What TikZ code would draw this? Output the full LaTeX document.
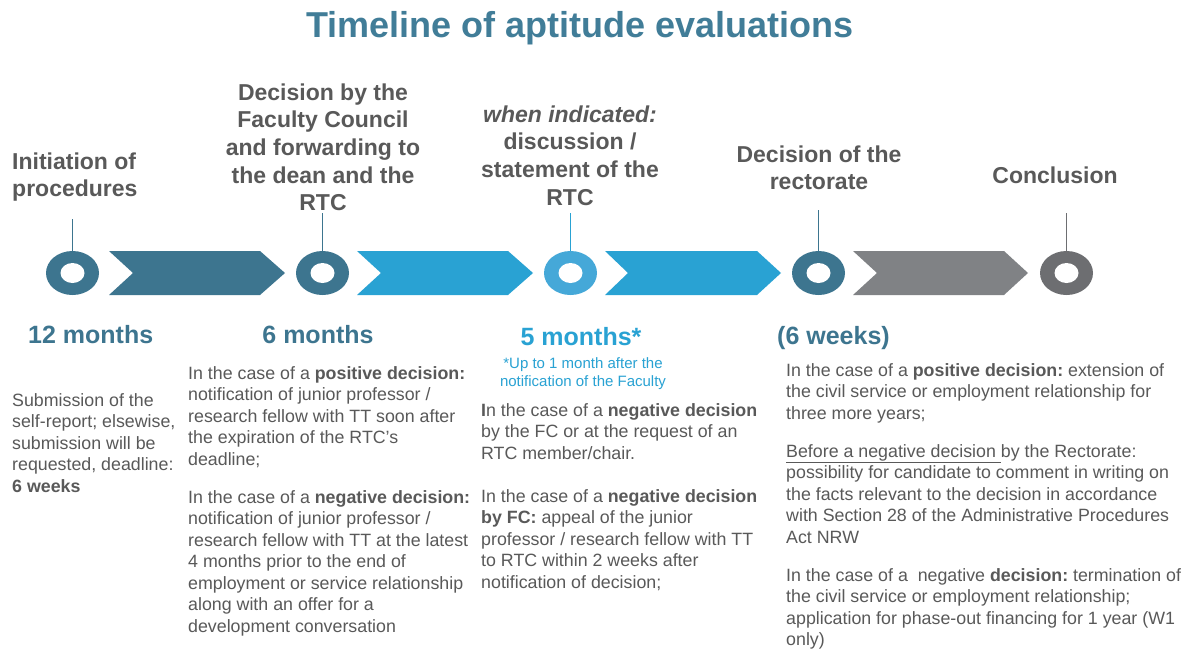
\documentclass[tikz,border=0pt]{standalone}
\usepackage{fontspec}
\setmainfont{Liberation Sans}
\usetikzlibrary{shapes.geometric}
\definecolor{ateal}{HTML}{3D758F}
\definecolor{titleteal}{HTML}{417D98}
\definecolor{ablue}{HTML}{29A2D3}
\definecolor{lblue}{HTML}{45A8D8}
\definecolor{agray}{HTML}{808285}
\definecolor{dgray}{HTML}{6D6E71}
\definecolor{txt}{HTML}{595959}
\frenchspacing
\begin{document}
\begin{tikzpicture}[x=1pt,y=-1pt,
  ring/.style={ellipse, minimum width=53pt, minimum height=44pt, inner sep=0pt, fill=#1},
  hole/.style={fill=white},
  stem/.style={line width=1.5pt, draw=#1},
  toplabel/.style={inner sep=0pt, text=txt, font=\fontsize{23}{27.7}\selectfont\bfseries},
  period/.style={inner sep=0pt, font=\fontsize{25}{30}\selectfont\bfseries},
  body/.style={inner sep=0pt, text=txt, align=left, anchor=north west, font=\fontsize{17.8}{21.5}\selectfont},
  note/.style={inner sep=0pt, text=ablue, align=center, anchor=north, font=\fontsize{15}{18}\selectfont}
]
\useasboundingbox[fill=white] (0,0) rectangle (1196,651);

% title
\node[inner sep=0pt, anchor=base, text=titleteal, font=\fontsize{36}{43}\selectfont\bfseries] (title) at (580,37) {Timeline of aptitude evaluations};

% chevrons
\fill[ateal] (109,251) -- (260,251) -- (285,273) -- (260,295) -- (109,295) -- (133,273) -- cycle;
\fill[ablue] (357,251) -- (508,251) -- (533,273) -- (508,295) -- (357,295) -- (381,273) -- cycle;
\fill[ablue] (605,251) -- (757,251) -- (781,273) -- (757,295) -- (605,295) -- (628,273) -- cycle;
\fill[agray] (853,251) -- (1004,251) -- (1028,273) -- (1004,295) -- (853,295) -- (877,273) -- cycle;

% rings
\node[ring=ateal] (c1) at (72.5,273) {};
\node[ring=ateal] (c2) at (322.5,273) {};
\node[ring=lblue] (c3) at (570.5,273) {};
\node[ring=ateal] (c4) at (818.5,273) {};
\node[ring=dgray] (c5) at (1066.5,273) {};
\foreach \c in {c1,c2,c3,c4,c5}{
  \fill[hole] (\c.center) ellipse [x radius=12, y radius=10];
}

% stems
\coordinate (t1) at (72.5,219);
\coordinate (t2) at (322.5,213);
\coordinate (t3) at (570.5,213);
\coordinate (t4) at (818.5,210);
\coordinate (t5) at (1066.5,213);
\draw[stem=ateal] (c1.north) -- (t1);
\draw[stem=ateal] (c2.north) -- (t2);
\draw[stem=ablue] (c3.north) -- (t3);
\draw[stem=ateal] (c4.north) -- (t4);
\draw[stem=dgray] (c5.north) -- (t5);

% top labels
\node[toplabel, align=left, anchor=north west] (l1) at (12,149.6) {\strut Initiation of\\procedures};
\node[toplabel, align=center, anchor=north] (l2) at (323,80.6) {\strut Decision by the\\Faculty Council\\and forwarding to\\the dean and the\\RTC};
\node[toplabel, align=center, anchor=north] (l3) at (570,102.6) {\strut\textit{when indicated:}\\discussion /\\statement of the\\RTC};
\node[toplabel, align=center, anchor=north] (l4) at (819,142.6) {\strut Decision of the\\rectorate};
\node[toplabel, align=center, anchor=north] (l5) at (1055,163.6) {\strut Conclusion};

% periods
\node[period, text=ateal, anchor=base west] (p1) at (28,343) {12 months};
\node[period, text=ateal, anchor=base] (p2) at (318,343) {6 months};
\node[period, text=ablue, anchor=base] (p3) at (581,345) {5 months*};
\node[period, text=ateal, anchor=base west] (p4) at (777,344) {(6 weeks)};
\node[note] (n3) at (583,355.4) {\strut *Up to 1 month after the\\notification of the Faculty};

% body texts
\node[body] (b1) at (12,391) {\strut Submission of the\\self-report; elsewise,\\submission will be\\requested, deadline:\\\textbf{6 weeks}};
\node[body] (b2) at (188,364) {\strut In the case of a \textbf{positive decision:}\\notification of junior professor /\\research fellow with TT soon after\\the expiration of the RTC’s\\deadline;\\[16.5pt]
In the case of a \textbf{negative decision:}\\notification of junior professor /\\research fellow with TT at the latest\\4 months prior to the end of\\employment or service relationship\\along with an offer for a\\development conversation};
\node[body] (b3) at (481,401) {\strut\textbf{I}n the case of a \textbf{negative decision}\\by the FC or at the request of an\\RTC member/chair.\\[21.5pt]
In the case of a \textbf{negative decision}\\\textbf{by FC:} appeal of the junior\\professor / research fellow with TT\\to RTC within 2 weeks after\\notification of decision;};
\node[body] (b4) at (786,361) {\strut In the case of a \textbf{positive decision:} extension of\\the civil service or employment relationship for\\three more years;\\[16.5pt]
\underline{Before a negative decision\ }by the Rectorate:\\possibility for candidate to comment in writing on\\the facts relevant to the decision in accordance\\with Section 28 of the Administrative Procedures\\Act NRW\\[16.5pt]
In the case of a\ \ negative \textbf{decision:} termination of\\the civil service or employment relationship;\\application for phase-out financing for 1 year (W1\\only)};
\end{tikzpicture}
\end{document}
